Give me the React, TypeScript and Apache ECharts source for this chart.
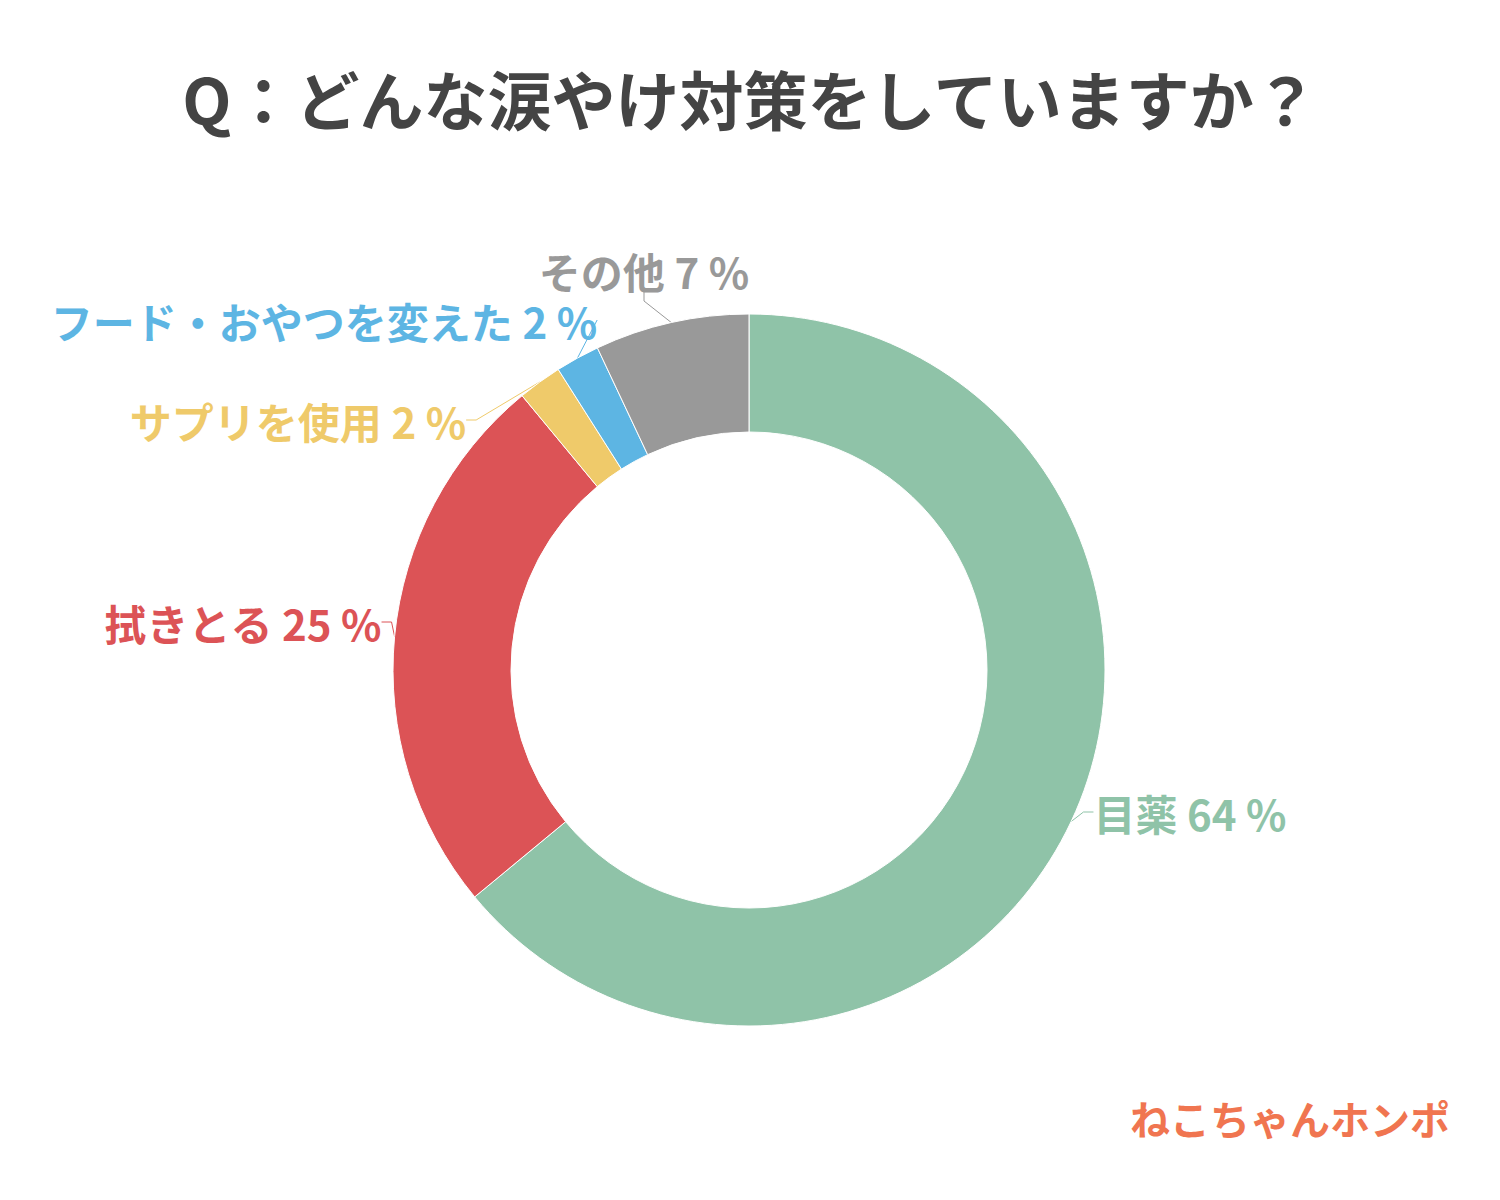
import React, { useEffect, useRef } from "react";
import * as echarts from "echarts";

const titleText = "Q：どんな涙やけ対策をしていますか？";
const categories = ["目薬", "拭きとる", "サプリを使用", "フード・おやつを変えた", "その他"];
const values = [64, 25, 2, 2, 7];
const colors = ["#8fc3a8", "#dc5356", "#efca6a", "#5db5e3", "#999999"];
const labelPos = [
  [1190, 812],
  [243, 622],
  [298, 420],
  [324, 320],
  [644, 270],
];
const logoText = "ねこちゃんホンポ";

const FONT = '"Noto Sans CJK JP", "Noto Sans", sans-serif';

export default function App() {
  const ref = useRef<HTMLDivElement>(null);
  useEffect(() => {
    if (!ref.current) return;
    const chart = echarts.init(ref.current, undefined, { renderer: "svg" });
    chart.setOption({
      animation: false,
      backgroundColor: "#ffffff",
      title: {
        text: titleText,
        left: "center",
        top: 60,
        textStyle: { fontFamily: FONT, fontSize: 64, fontWeight: "bold", color: "#444444" },
      },
      graphic: [
        {
          type: "text",
          right: 50,
          top: 1098,
          style: {
            text: logoText,
            fontFamily: FONT,
            fontSize: 40,
            fontWeight: "bold",
            fill: "#f07550",
          },
        },
      ],
      series: [
        {
          type: "pie",
          center: [749, 670],
          radius: [238, 356],
          startAngle: 90,
          clockwise: true,
          avoidLabelOverlap: false,
          itemStyle: { borderColor: "#ffffff", borderWidth: 1 },
          data: categories.map((c, i) => ({
            name: c,
            value: values[i],
            itemStyle: { color: colors[i] },
            label: { color: colors[i] },
            labelLine: { lineStyle: { color: colors[i] } },
          })),
          label: {
            show: true,
            position: "outside",
            fontFamily: FONT,
            fontSize: 42,
            fontWeight: "bold",
            formatter: (p: any) => `${p.name} ${p.value} %`,
          },
          labelLine: { show: true, length: 10, length2: 10, lineStyle: { width: 1 } },
          labelLayout: (p: any) => ({
            x: labelPos[p.dataIndex][0],
            y: labelPos[p.dataIndex][1],
            align: "center",
            verticalAlign: "middle",
          }),
        },
      ],
    });
    return () => chart.dispose();
  }, []);
  return (
    <div
      ref={ref}
      style={{ position: "absolute", left: 0, top: 0, width: 1500, height: 1200 }}
    />
  );
}
